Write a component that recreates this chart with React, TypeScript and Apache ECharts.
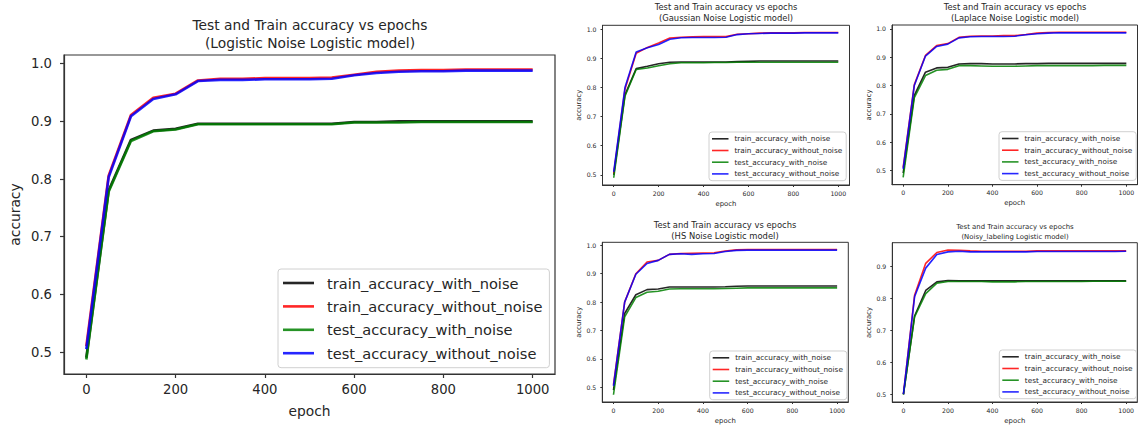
import React, { useEffect, useRef } from 'react';
import * as echarts from 'echarts';

const epochs = [0, 50, 100, 150, 200, 250, 300, 350, 400, 450, 500, 550, 600, 650, 700, 750, 800, 850, 900, 950, 1000];
const seriesNames = ['train_accuracy_with_noise', 'train_accuracy_without_noise', 'test_accuracy_with_noise', 'test_accuracy_without_noise'];
const seriesColors = ['#000000', '#ff0000', '#008000', '#0000ff'];
const xTicks = [0, 200, 400, 600, 800, 1000];
const yTicksFull = [0.5, 0.6, 0.7, 0.8, 0.9, 1.0];
const yTicksNoisy = [0.5, 0.6, 0.7, 0.8, 0.9];

const titleLogistic = 'Test and Train accuracy vs epochs\n(Logistic Noise Logistic model)';
const titleGaussian = 'Test and Train accuracy vs epochs\n(Gaussian Noise Logistic model)';
const titleLaplace = 'Test and Train accuracy vs epochs\n(Laplace Noise Logistic model)';
const titleHS = 'Test and Train accuracy vs epochs\n(HS Noise Logistic model)';
const titleNoisy = 'Test and Train accuracy vs epochs\n(Noisy_labeling Logistic model)';

// Logistic noise
const logTrainNoise = [0.49, 0.78, 0.868, 0.884, 0.887, 0.896, 0.896, 0.896, 0.896, 0.896, 0.896, 0.896, 0.899, 0.899, 0.900, 0.900, 0.900, 0.900, 0.900, 0.900, 0.900];
const logTrainClean = [0.51, 0.806, 0.911, 0.941, 0.948, 0.971, 0.974, 0.974, 0.975, 0.975, 0.975, 0.976, 0.981, 0.986, 0.988, 0.989, 0.989, 0.990, 0.990, 0.990, 0.990];
const logTestNoise = [0.487, 0.778, 0.866, 0.883, 0.886, 0.895, 0.895, 0.895, 0.895, 0.895, 0.895, 0.895, 0.898, 0.898, 0.898, 0.899, 0.899, 0.899, 0.899, 0.899, 0.899];
const logTestClean = [0.505, 0.803, 0.909, 0.939, 0.947, 0.970, 0.972, 0.972, 0.973, 0.973, 0.973, 0.974, 0.980, 0.984, 0.986, 0.987, 0.987, 0.988, 0.988, 0.988, 0.988];

// Gaussian noise
const gauTrainNoise = [0.50, 0.775, 0.865, 0.873, 0.882, 0.887, 0.888, 0.888, 0.888, 0.888, 0.888, 0.889, 0.890, 0.891, 0.891, 0.891, 0.891, 0.891, 0.891, 0.891, 0.891];
const gauTrainClean = [0.505, 0.794, 0.918, 0.938, 0.953, 0.970, 0.973, 0.974, 0.975, 0.975, 0.975, 0.983, 0.985, 0.987, 0.988, 0.988, 0.988, 0.989, 0.989, 0.989, 0.989];
const gauTestNoise = [0.49, 0.770, 0.862, 0.867, 0.875, 0.882, 0.885, 0.885, 0.885, 0.886, 0.886, 0.887, 0.887, 0.887, 0.887, 0.887, 0.887, 0.887, 0.887, 0.887, 0.887];
const gauTestClean = [0.51, 0.800, 0.922, 0.937, 0.948, 0.966, 0.971, 0.972, 0.972, 0.972, 0.973, 0.982, 0.985, 0.986, 0.987, 0.987, 0.987, 0.988, 0.988, 0.988, 0.988];

// Laplace noise
const lapTrainNoise = [0.49, 0.765, 0.847, 0.862, 0.864, 0.876, 0.877, 0.877, 0.876, 0.876, 0.876, 0.877, 0.877, 0.878, 0.878, 0.878, 0.878, 0.878, 0.878, 0.878, 0.878];
const lapTrainClean = [0.51, 0.803, 0.906, 0.941, 0.948, 0.970, 0.974, 0.975, 0.975, 0.976, 0.976, 0.980, 0.985, 0.987, 0.988, 0.988, 0.988, 0.988, 0.988, 0.988, 0.988];
const lapTestNoise = [0.475, 0.757, 0.835, 0.854, 0.857, 0.870, 0.870, 0.869, 0.868, 0.868, 0.868, 0.869, 0.870, 0.870, 0.870, 0.870, 0.870, 0.870, 0.871, 0.871, 0.871];
const lapTestClean = [0.505, 0.800, 0.904, 0.938, 0.946, 0.968, 0.972, 0.973, 0.973, 0.973, 0.974, 0.979, 0.983, 0.985, 0.986, 0.986, 0.986, 0.986, 0.986, 0.986, 0.986];

// HS noise
const hsTrainNoise = [0.49, 0.76, 0.826, 0.844, 0.846, 0.853, 0.853, 0.853, 0.853, 0.853, 0.854, 0.856, 0.857, 0.857, 0.857, 0.857, 0.857, 0.857, 0.857, 0.857, 0.857];
const hsTrainClean = [0.51, 0.80, 0.90, 0.941, 0.947, 0.968, 0.971, 0.972, 0.973, 0.974, 0.980, 0.984, 0.985, 0.985, 0.985, 0.985, 0.985, 0.985, 0.985, 0.985, 0.985];
const hsTestNoise = [0.474, 0.748, 0.816, 0.835, 0.838, 0.846, 0.847, 0.847, 0.847, 0.847, 0.848, 0.849, 0.850, 0.850, 0.850, 0.850, 0.850, 0.850, 0.850, 0.850, 0.850];
const hsTestClean = [0.505, 0.80, 0.898, 0.936, 0.947, 0.968, 0.970, 0.968, 0.970, 0.971, 0.978, 0.982, 0.983, 0.983, 0.983, 0.983, 0.983, 0.983, 0.983, 0.983, 0.983];

// Noisy labeling
const nlTrainNoise = [0.50, 0.745, 0.825, 0.852, 0.856, 0.855, 0.855, 0.855, 0.855, 0.855, 0.855, 0.855, 0.855, 0.855, 0.855, 0.855, 0.855, 0.855, 0.855, 0.855, 0.855];
const nlTrainClean = [0.50, 0.81, 0.91, 0.944, 0.952, 0.951, 0.949, 0.948, 0.948, 0.948, 0.948, 0.948, 0.949, 0.949, 0.949, 0.949, 0.949, 0.949, 0.949, 0.949, 0.949];
const nlTestNoise = [0.498, 0.742, 0.815, 0.848, 0.853, 0.853, 0.853, 0.853, 0.852, 0.852, 0.852, 0.853, 0.853, 0.853, 0.853, 0.853, 0.853, 0.854, 0.854, 0.854, 0.854];
const nlTestClean = [0.50, 0.805, 0.895, 0.938, 0.946, 0.948, 0.946, 0.946, 0.946, 0.946, 0.946, 0.946, 0.947, 0.947, 0.947, 0.947, 0.947, 0.947, 0.947, 0.947, 0.948];

const FONT = 'DejaVu Sans';
const TEXT = '#262626';

type Panel = {
  title: string;
  series: number[][];
  yTicks: number[];
  grid: { left: number; top: number; width: number; height: number };
  titleX: number; titleTop: number; titleSize: number; titleLH: number;
  tickSize: number; nameSize: number; legendSize: number;
  lineWidth: number; tickLen: number;
  xMargin: number; yMargin: number; xNameGap: number; yNameGap: number;
  legend: { left: number; top: number; itemWidth: number; itemGap: number; padding: number[]; textPad: number };
  border: number;
};

const big = { titleSize: 13.8, titleLH: 18, tickSize: 13.2, nameSize: 13.8, legendSize: 14.6, lineWidth: 2.6, tickLen: 4, xMargin: 9, yMargin: 12, xNameGap: 30, yNameGap: 42, border: 1.2 };
const small = { titleSize: 8.4, titleLH: 11, tickSize: 6.2, nameSize: 6.9, legendSize: 7.3, lineWidth: 1.6, tickLen: 2, xMargin: 5, yMargin: 6, xNameGap: 15, yNameGap: 20, border: 1 };

const panels: Panel[] = [
  {
    ...big, title: titleLogistic, series: [logTrainNoise, logTrainClean, logTestNoise, logTestClean], yTicks: yTicksFull,
    grid: { left: 64, top: 55, width: 491, height: 319 }, titleX: 310, titleTop: 16,
    legend: { left: 278, top: 269, itemWidth: 31, itemGap: 8.4, padding: [6.5, 7, 7, 5], textPad: 8 },
  },
  {
    ...small, title: titleGaussian, series: [gauTrainNoise, gauTrainClean, gauTestNoise, gauTestClean], yTicks: yTicksFull,
    grid: { left: 602.5, top: 25.3, width: 247, height: 159.7 }, titleX: 726, titleTop: 1.5,
    legend: { left: 709, top: 132, itemWidth: 16.5, itemGap: 4.7, padding: [3.3, 4, 3.3, 3], textPad: 1 },
  },
  {
    ...small, title: titleLaplace, series: [lapTrainNoise, lapTrainClean, lapTestNoise, lapTestClean], yTicks: yTicksFull,
    grid: { left: 892, top: 25, width: 245.5, height: 159.7 }, titleX: 1015, titleTop: 1.5,
    legend: { left: 999, top: 131.7, itemWidth: 16.5, itemGap: 4.7, padding: [3.3, 4, 3.3, 3], textPad: 1 },
  },
  {
    ...small, title: titleHS, series: [hsTrainNoise, hsTrainClean, hsTestNoise, hsTestClean], yTicks: yTicksFull,
    grid: { left: 602.3, top: 242.3, width: 246, height: 160 }, titleX: 725, titleTop: 219,
    legend: { left: 709.7, top: 351, itemWidth: 16.5, itemGap: 4.7, padding: [3.3, 4, 3.3, 3], textPad: 1 },
  },
  {
    ...small, title: titleNoisy, series: [nlTrainNoise, nlTrainClean, nlTestNoise, nlTestClean], yTicks: yTicksNoisy,
    grid: { left: 892.3, top: 242.7, width: 245, height: 159.6 }, titleX: 1015, titleTop: 221.7, titleSize: 6.9, titleLH: 10,
    legend: { left: 999.3, top: 350, itemWidth: 16.5, itemGap: 4.7, padding: [3.3, 4, 3.3, 3], textPad: 1 },
  },
];

function range(values: number[]) {
  let lo = Infinity, hi = -Infinity;
  values.forEach((v) => { if (v < lo) lo = v; if (v > hi) hi = v; });
  const m = (hi - lo) * 0.05;
  return [lo - m, hi + m];
}

export default function App() {
  const ref = useRef<HTMLDivElement>(null);
  useEffect(() => {
    if (!ref.current) return;
    const chart = echarts.init(ref.current, undefined, { renderer: 'svg' });
    const [xMin, xMax] = range(epochs);
    const option: any = {
      animation: false,
      backgroundColor: '#ffffff',
      title: panels.map((p) => ({
        text: p.title, left: p.titleX, top: p.titleTop, textAlign: 'center', padding: 0,
        textStyle: { fontSize: p.titleSize, fontWeight: 'normal', color: TEXT, fontFamily: FONT, lineHeight: p.titleLH },
      })),
      legend: panels.map((p) => ({
        data: seriesNames, orient: 'vertical', left: p.legend.left, top: p.legend.top,
        icon: 'rect', itemWidth: p.legend.itemWidth, itemHeight: p.lineWidth, itemGap: p.legend.itemGap,
        padding: p.legend.padding, borderColor: '#d0d0d0', borderWidth: 1, borderRadius: 3,
        backgroundColor: 'rgba(255,255,255,0.85)', selectedMode: false,
        textStyle: { fontSize: p.legendSize, color: TEXT, fontFamily: FONT, padding: [0, 0, 0, p.legend.textPad] },
      })),
      grid: panels.map((p) => ({
        ...p.grid, show: true, borderColor: '#333', borderWidth: p.border, backgroundColor: 'transparent', containLabel: false,
      })),
      xAxis: panels.map((p, i) => ({
        type: 'value', gridIndex: i, min: xMin, max: xMax,
        axisLine: { show: true, onZero: false, lineStyle: { color: '#333', width: p.border } },
        axisTick: { show: true, length: p.tickLen, customValues: xTicks, lineStyle: { color: '#333', width: p.border } },
        axisLabel: { customValues: xTicks, fontSize: p.tickSize, margin: p.xMargin, color: TEXT, fontFamily: FONT, formatter: (v: number) => String(v) },
        splitLine: { show: false },
        name: 'epoch', nameLocation: 'middle', nameGap: p.xNameGap,
        nameTextStyle: { fontSize: p.nameSize, color: TEXT, fontFamily: FONT },
      })),
      yAxis: panels.map((p, i) => {
        const [lo, hi] = range(p.series.flat());
        return {
          type: 'value', gridIndex: i, min: lo, max: hi,
          axisLine: { show: true, onZero: false, lineStyle: { color: '#333', width: p.border } },
          axisTick: { show: true, length: p.tickLen, customValues: p.yTicks, lineStyle: { color: '#333', width: p.border } },
          axisLabel: { customValues: p.yTicks, fontSize: p.tickSize, margin: p.yMargin, color: TEXT, fontFamily: FONT, formatter: (v: number) => v.toFixed(1) },
          splitLine: { show: false },
          name: 'accuracy', nameLocation: 'middle', nameGap: p.yNameGap,
          nameTextStyle: { fontSize: p.nameSize, color: TEXT, fontFamily: FONT },
        };
      }),
      series: panels.flatMap((p, i) =>
        p.series.map((vals, k) => ({
          type: 'line', name: seriesNames[k], xAxisIndex: i, yAxisIndex: i, silent: true,
          data: epochs.map((e, j) => [e, vals[j]]),
          showSymbol: false, symbol: 'none',
          lineStyle: { width: p.lineWidth, color: seriesColors[k], opacity: 0.85 },
          itemStyle: { color: seriesColors[k], opacity: 0.85 },
        }))
      ),
    };
    chart.setOption(option);
    return () => chart.dispose();
  }, []);
  return <div ref={ref} style={{ position: 'absolute', left: 0, top: 0, width: 1138, height: 425 }} />;
}
